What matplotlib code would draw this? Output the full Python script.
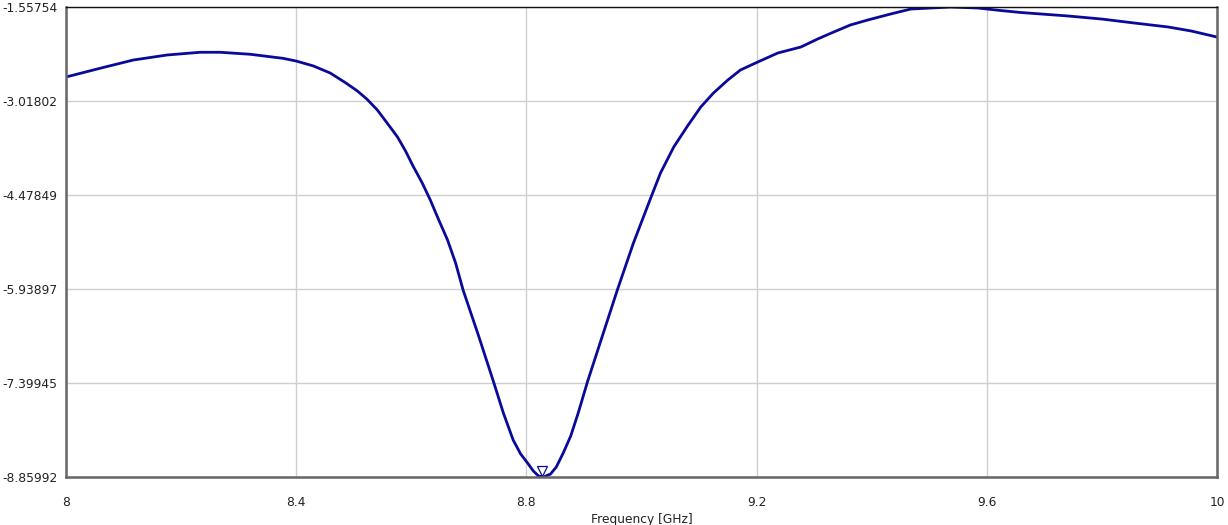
import matplotlib
matplotlib.use('Agg')
import matplotlib.pyplot as plt
import matplotlib.transforms as mtransforms
import numpy as np

# frequency sweep [GHz] and response
freq = [8.000, 8.059, 8.117, 8.176, 8.233, 8.268, 8.320, 8.377, 8.400, 8.430,
        8.459, 8.485, 8.506, 8.523, 8.541, 8.558, 8.576, 8.590, 8.603, 8.619,
        8.633, 8.647, 8.663, 8.677, 8.690, 8.717, 8.743, 8.760, 8.777, 8.790,
        8.802, 8.812, 8.821, 8.830, 8.842, 8.852, 8.864, 8.877, 8.890, 8.906,
        8.932, 8.958, 8.986, 9.016, 9.033, 9.056, 9.080, 9.103, 9.125, 9.150,
        9.172, 9.202, 9.237, 9.277, 9.306, 9.334, 9.363, 9.393, 9.433, 9.468,
        9.537, 9.584, 9.624, 9.659, 9.741, 9.800, 9.856, 9.915, 9.955, 10.000]
s11 = [-2.645, -2.510, -2.381, -2.303, -2.261, -2.261, -2.292, -2.355, -2.397, -2.474,
       -2.583, -2.730, -2.860, -2.990, -3.158, -3.360, -3.577, -3.795, -4.028, -4.292,
       -4.556, -4.851, -5.178, -5.535, -5.955, -6.669, -7.384, -7.866, -8.285, -8.502,
       -8.642, -8.766, -8.844, -8.860, -8.813, -8.704, -8.487, -8.223, -7.866, -7.384,
       -6.669, -5.955, -5.224, -4.525, -4.137, -3.733, -3.406, -3.111, -2.894, -2.692,
       -2.536, -2.412, -2.272, -2.179, -2.055, -1.946, -1.837, -1.760, -1.666, -1.589,
       -1.558, -1.573, -1.612, -1.643, -1.697, -1.745, -1.806, -1.868, -1.930, -2.024]

yticks = [-1.55754, -3.01802, -4.47849, -5.93897, -7.39945, -8.85992]
xticks = [8, 8.4, 8.8, 9.2, 9.6, 10]
xtick_labels = ['8', '8.4', '8.8', '9.2', '9.6', '10']

LINE = '#0a0a9a'
GRID = '#cfcfcf'

fig = plt.figure(figsize=(12.28, 5.25), dpi=100)
ax = fig.add_axes([66 / 1228, 1 - 477 / 525, (1217 - 66) / 1228, (477 - 7) / 525])

ax.plot(freq, s11, color=LINE, linewidth=2.0, solid_joinstyle='round')

# marker at the minimum, drawn just above the curve
i_min = int(np.argmin(s11))
mk = mtransforms.offset_copy(ax.transData, fig=fig, x=-1, y=4, units='points')
ax.plot(freq[i_min], s11[i_min], marker='v', markersize=7, markerfacecolor='white',
        markeredgecolor=LINE, markeredgewidth=0.9, transform=mk, clip_on=False)

ax.set_xlim(8, 10)
ax.set_ylim(yticks[-1], yticks[0])
ax.set_xticks(xticks)
ax.set_xticklabels(xtick_labels)
ax.set_yticks(yticks)
ax.set_yticklabels([f'{v:.5f}' for v in yticks])
ax.tick_params(axis='both', length=0, labelsize=8.8, colors='#222222')
ax.tick_params(axis='x', pad=14)
ax.tick_params(axis='y', pad=6)
ax.grid(True, color=GRID, linewidth=1.0)
ax.set_axisbelow(True)

for side in ['left', 'bottom', 'right']:
    ax.spines[side].set_color('#666666')
    ax.spines[side].set_linewidth(1.8)
ax.spines['top'].set_color('#111111')
ax.spines['top'].set_linewidth(1.0)

ax.set_xlabel('Frequency [GHz]', fontsize=8.8, color='#222222')
ax.xaxis.set_label_coords(0.5, -0.077)

fig.savefig('out.png', dpi=100)
